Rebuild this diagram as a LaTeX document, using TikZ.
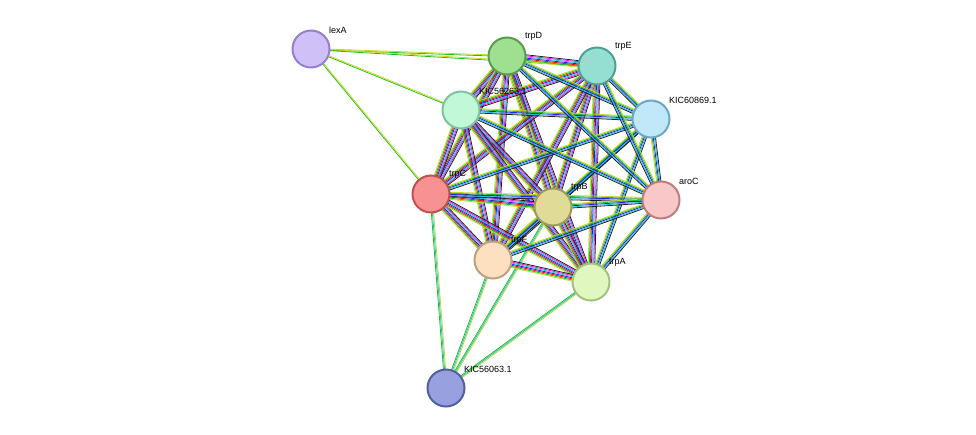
\documentclass[tikz,border=0pt]{standalone}
\usepackage{fontspec}
\setmainfont{Liberation Sans}
\usetikzlibrary{calc}
\definecolor{sg}{HTML}{1FC01F}
\definecolor{sr}{HTML}{F01010}
\definecolor{sb}{HTML}{2020F0}
\definecolor{sc}{HTML}{20C0E0}
\definecolor{sm}{HTML}{E020E0}
\definecolor{sk}{HTML}{202020}
\definecolor{sy}{HTML}{C8D820}
\newcommand{\Edg}[4]{%
  \foreach \cc [count=\ii] in {#4} {%
    \pgfmathsetmacro{\off}{(\ii-(#3+1)/2)*1.1}
    \draw[edge,draw=\cc] ($(#1)!\off pt!90:(#2)$) -- ($(#2)!\off pt!-90:(#1)$);
  }}
\begin{document}
\begin{tikzpicture}[x=1pt,y=-1pt,
  edge/.style={line width=0.8pt},
  prot/.style={circle,minimum size=37pt,inner sep=0pt,line width=2pt},
  lab/.style={font=\fontsize{9}{10}\selectfont,anchor=south west,inner sep=1pt}]
\useasboundingbox (0,0) rectangle (976,434);
\coordinate (lexA) at (311,49);
\coordinate (trpD) at (507,56);
\coordinate (trpE) at (597,66);
\coordinate (K263) at (461,110);
\coordinate (K869) at (651,119);
\coordinate (trpC) at (431,194);
\coordinate (trpB) at (553,207);
\coordinate (aroC) at (661,200);
\coordinate (trpF) at (493,260);
\coordinate (trpA) at (591,282);
\coordinate (K063) at (446,388);
% peripheral
\Edg{lexA}{trpD}{2}{sg,sy}
\Edg{lexA}{trpE}{2}{sg,sy}
\Edg{lexA}{K263}{2}{sg,sy}
\Edg{lexA}{trpC}{2}{sg,sy}
\foreach \t in {trpC,trpF,trpB,trpA} {\Edg{K063}{\t}{3}{sy,sc,sg}}
% cluster
\foreach \a/\b in {trpD/trpE,trpD/K263,trpD/trpC,trpD/trpB,trpD/trpF,trpD/trpA,
  trpE/K263,trpE/trpC,trpE/trpB,trpE/trpF,trpE/trpA,K263/trpC,K263/trpB,K263/trpF,K263/trpA,
  trpC/trpB,trpC/trpF,trpC/trpA,trpB/trpF,trpB/trpA,trpF/trpA}
  {\Edg{\a}{\b}{7}{sy,sg,sr,sb,sc,sm,sk}}
\foreach \a/\b in {K869/trpD,K869/trpE,K869/K263,K869/trpC,K869/trpB,K869/trpF,K869/trpA,K869/aroC,
  aroC/trpD,aroC/trpE,aroC/K263,aroC/trpC,aroC/trpB,aroC/trpF,aroC/trpA}
  {\Edg{\a}{\b}{5}{sy,sg,sb,sc,sk}}
% nodes
\node[prot,fill={rgb,255:red,208;green,192;blue,248},draw={rgb,255:red,150;green,125;blue,205}] (nlexA) at (lexA) {};
\node[prot,fill={rgb,255:red,158;green,224;blue,144},draw={rgb,255:red,90;green,155;blue,80}] (ntrpD) at (trpD) {};
\node[prot,fill={rgb,255:red,148;green,222;blue,210},draw={rgb,255:red,80;green,160;blue,145}] (ntrpE) at (trpE) {};
\node[prot,fill={rgb,255:red,192;green,248;blue,216},draw={rgb,255:red,125;green,195;blue,160}] (nK263) at (K263) {};
\node[prot,fill={rgb,255:red,192;green,232;blue,248},draw={rgb,255:red,110;green,165;blue,200}] (nK869) at (K869) {};
\node[prot,fill={rgb,255:red,248;green,146;blue,146},draw={rgb,255:red,190;green,80;blue,80}] (ntrpC) at (trpC) {};
\node[prot,fill={rgb,255:red,224;green,220;blue,152},draw={rgb,255:red,155;green,155;blue,95}] (ntrpB) at (trpB) {};
\node[prot,fill={rgb,255:red,248;green,200;blue,200},draw={rgb,255:red,190;green,125;blue,125}] (naroC) at (aroC) {};
\node[prot,fill={rgb,255:red,253;green,224;blue,192},draw={rgb,255:red,190;green,160;blue,125}] (ntrpF) at (trpF) {};
\node[prot,fill={rgb,255:red,224;green,248;blue,192},draw={rgb,255:red,160;green,195;blue,125}] (ntrpA) at (trpA) {};
\node[prot,fill={rgb,255:red,152;green,160;blue,224},draw={rgb,255:red,80;green,95;blue,160}] (nK063) at (K063) {};
% labels
\foreach \n/\t in {lexA/lexA,trpD/trpD,trpE/trpE,K263/KIC56263.1,K869/KIC60869.1,trpC/trpC,
  trpB/trpB,aroC/aroC,trpF/trpF,trpA/trpA,K063/KIC56063.1}
  \node[lab] (l\n) at ($(\n)+(17,-14)$) {\t};
\end{tikzpicture}
\end{document}
